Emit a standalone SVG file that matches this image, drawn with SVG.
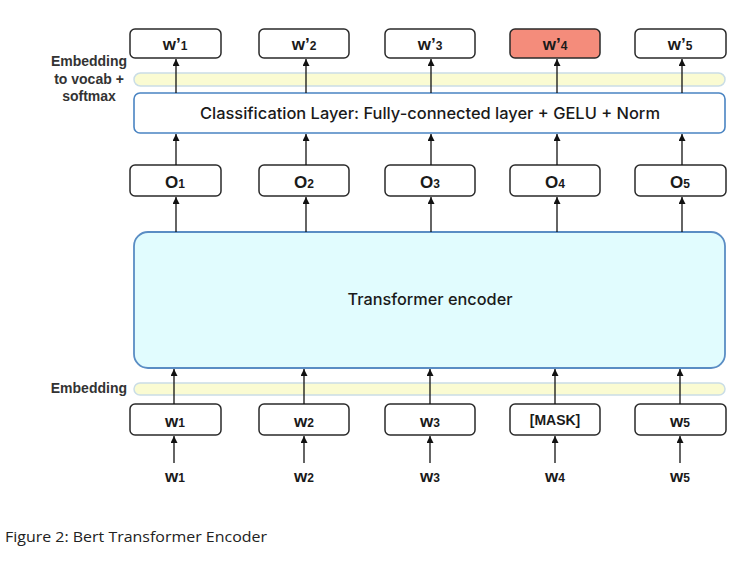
<svg xmlns="http://www.w3.org/2000/svg" width="737" height="561" viewBox="0 0 737 561">
<defs>
<marker id="ah" viewBox="0 0 8 8" refX="8" refY="4" markerWidth="7" markerHeight="7" markerUnits="userSpaceOnUse" orient="auto">
<path d="M0,0 L8,4 L0,8 z" fill="#111"/>
</marker>
<style>
.box{fill:#fff;stroke:#2a2a2a;stroke-width:1.5}
.hl{fill:#f48c7b}
.lbl{font-family:"Liberation Sans",Arial,sans-serif;font-weight:bold;font-size:17px;fill:#1a1a1a;text-anchor:middle}
.sub{font-size:12px}
.side{font-family:"Liberation Sans",Arial,sans-serif;font-weight:bold;font-size:14px;fill:#333}
.big{font-family:Inter,"Liberation Sans",sans-serif;font-weight:500;font-size:16px;fill:#1a1a1a;text-anchor:middle}
.band{fill:#fafbd2;stroke:#cadde6;stroke-width:1.5}
.layer{fill:#fff;stroke:#4a84c2;stroke-width:1.6}
.enc{fill:#e1fcfe;stroke:#5a8dc4;stroke-width:1.8}
.arr{stroke:#111;stroke-width:1.3;fill:none;marker-end:url(#ah)}
.cap{font-family:"Open Sans","Liberation Sans",sans-serif;font-size:15px;fill:#222}
</style>
</defs>
<rect width="737" height="561" fill="#fff"/>

<g id="band-top"><rect class="band" x="134" y="73" width="591" height="13" rx="6.5"/></g>
<g id="band-bottom"><rect class="band" x="134" y="383" width="591" height="12" rx="6"/></g>

<g id="classification"><rect class="layer" x="134" y="93" width="591" height="40" rx="6"/>
<text class="big" x="430" y="119" textLength="460" lengthAdjust="spacingAndGlyphs">Classification Layer: Fully-connected layer + GELU + Norm</text></g>

<g id="encoder"><rect class="enc" x="134" y="232" width="591" height="136" rx="14"/>
<text class="big" x="430" y="305" textLength="165" lengthAdjust="spacingAndGlyphs">Transformer encoder</text></g>

<g id="labels-side">
<text class="side" x="89" y="66" text-anchor="middle">Embedding</text>
<text class="side" x="89" y="84" text-anchor="middle">to vocab +</text>
<text class="side" x="89" y="101" text-anchor="middle">softmax</text>
<text class="side" x="127" y="393" text-anchor="end">Embedding</text>
</g>

<g id="out1"><rect class="box" x="130" y="29" width="91" height="29" rx="5"/><text class="lbl" x="175" y="50">w’<tspan class="sub">1</tspan></text></g>
<g id="out2"><rect class="box" x="259" y="29" width="90" height="29" rx="5"/><text class="lbl" x="304" y="50">w’<tspan class="sub">2</tspan></text></g>
<g id="out3"><rect class="box" x="385" y="29" width="90" height="29" rx="5"/><text class="lbl" x="430" y="50">w’<tspan class="sub">3</tspan></text></g>
<g id="out4"><rect class="box hl" x="510" y="29" width="90" height="29" rx="5"/><text class="lbl" x="555" y="50">w’<tspan class="sub">4</tspan></text></g>
<g id="out5"><rect class="box" x="635" y="29" width="91" height="29" rx="5"/><text class="lbl" x="680" y="50">w’<tspan class="sub">5</tspan></text></g>

<g id="o1"><rect class="box" x="130" y="165" width="91" height="31" rx="5"/><text class="lbl" x="175" y="188">O<tspan class="sub">1</tspan></text></g>
<g id="o2"><rect class="box" x="259" y="165" width="90" height="31" rx="5"/><text class="lbl" x="304" y="188">O<tspan class="sub">2</tspan></text></g>
<g id="o3"><rect class="box" x="385" y="165" width="90" height="31" rx="5"/><text class="lbl" x="430" y="188">O<tspan class="sub">3</tspan></text></g>
<g id="o4"><rect class="box" x="510" y="165" width="90" height="31" rx="5"/><text class="lbl" x="555" y="188">O<tspan class="sub">4</tspan></text></g>
<g id="o5"><rect class="box" x="635" y="165" width="91" height="31" rx="5"/><text class="lbl" x="680" y="188">O<tspan class="sub">5</tspan></text></g>

<g id="in1"><rect class="box" x="130" y="404" width="91" height="31" rx="5"/><text class="lbl" x="175" y="427">w<tspan class="sub">1</tspan></text></g>
<g id="in2"><rect class="box" x="259" y="404" width="90" height="31" rx="5"/><text class="lbl" x="304" y="427">w<tspan class="sub">2</tspan></text></g>
<g id="in3"><rect class="box" x="385" y="404" width="90" height="31" rx="5"/><text class="lbl" x="430" y="427">w<tspan class="sub">3</tspan></text></g>
<g id="in4"><rect class="box" x="510" y="404" width="90" height="31" rx="5"/><text class="lbl" x="555" y="425" style="font-size:14px">[MASK]</text></g>
<g id="in5"><rect class="box" x="635" y="404" width="91" height="31" rx="5"/><text class="lbl" x="680" y="427">w<tspan class="sub">5</tspan></text></g>

<g id="tokens">
<text class="lbl" x="175" y="482">w<tspan class="sub">1</tspan></text>
<text class="lbl" x="304" y="482">w<tspan class="sub">2</tspan></text>
<text class="lbl" x="430" y="482">w<tspan class="sub">3</tspan></text>
<text class="lbl" x="555" y="482">w<tspan class="sub">4</tspan></text>
<text class="lbl" x="680" y="482">w<tspan class="sub">5</tspan></text>
</g>

<g id="connectors">
<path class="arr" d="M176,93 V59"/><path class="arr" d="M306,93 V59"/><path class="arr" d="M431,93 V59"/><path class="arr" d="M557,93 V59"/><path class="arr" d="M682,93 V59"/>
<path class="arr" d="M176,165 V134"/><path class="arr" d="M306,165 V134"/><path class="arr" d="M431,165 V134"/><path class="arr" d="M557,165 V134"/><path class="arr" d="M682,165 V134"/>
<path class="arr" d="M176,232 V197"/><path class="arr" d="M306,232 V197"/><path class="arr" d="M431,232 V197"/><path class="arr" d="M557,232 V197"/><path class="arr" d="M682,232 V197"/>
<path class="arr" d="M174,404 V369"/><path class="arr" d="M304,404 V369"/><path class="arr" d="M430,404 V369"/><path class="arr" d="M555,404 V369"/><path class="arr" d="M680,404 V369"/>
<path class="arr" d="M174,463 V436"/><path class="arr" d="M304,463 V436"/><path class="arr" d="M430,463 V436"/><path class="arr" d="M555,463 V436"/><path class="arr" d="M680,463 V436"/>
</g>

<text class="cap" x="5" y="542" textLength="262" lengthAdjust="spacingAndGlyphs">Figure 2: Bert Transformer Encoder</text>
</svg>
